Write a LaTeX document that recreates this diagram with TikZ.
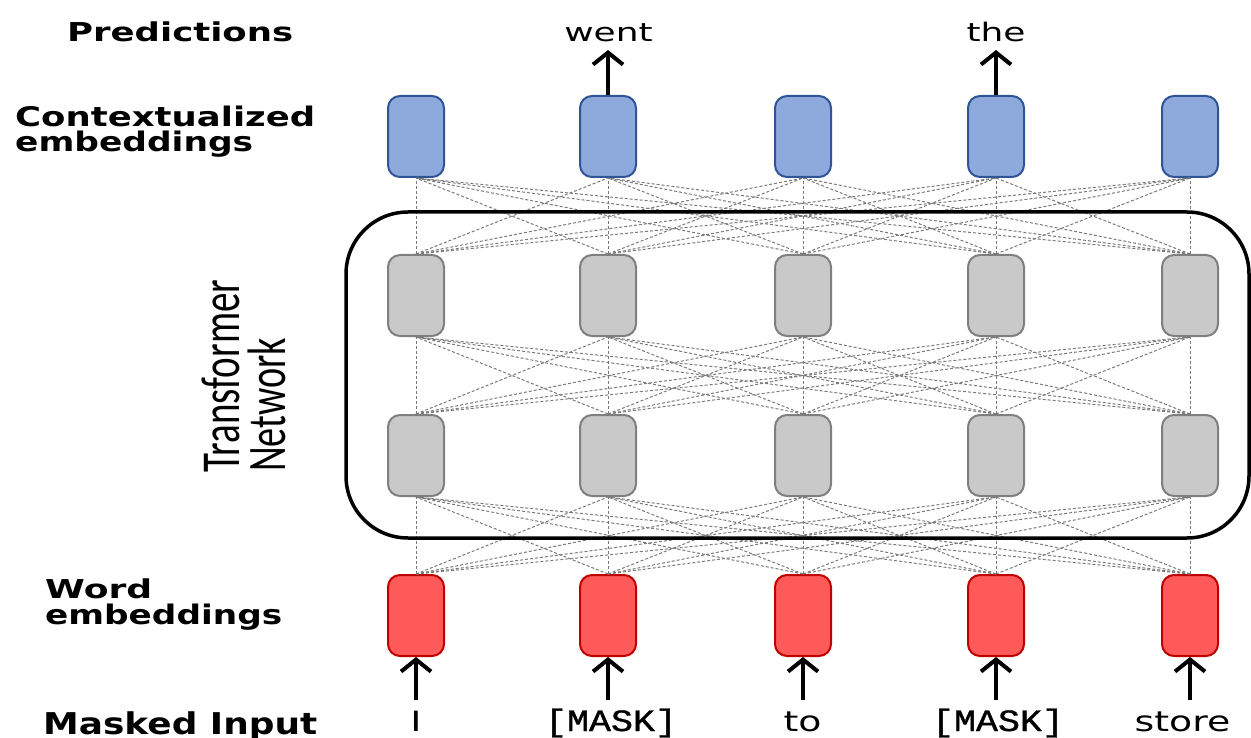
\documentclass[tikz,border=0pt]{standalone}
\usepackage{fontspec}
\usetikzlibrary{arrows.meta}
\newfontfamily\dvs{DejaVu Sans}
\newfontfamily\dvsb{DejaVu Sans Bold}
\newfontfamily\lmono[FakeBold=1]{Liberation Mono}
\newfontfamily\carl{Carlito}
\definecolor{bfill}{HTML}{8EA9DB}
\definecolor{bdraw}{HTML}{2F5597}
\definecolor{gfill}{HTML}{C9C9C9}
\definecolor{gdraw}{HTML}{7F7F7F}
\definecolor{rfill}{HTML}{FF5A5A}
\definecolor{rdraw}{HTML}{C00000}
\definecolor{dgray}{HTML}{7A7A7A}
\newcommand{\topword}[1]{\scalebox{1.41}[1]{\fontsize{25.5}{25}\dvs #1}}
\newcommand{\botword}[1]{\scalebox{1.35}[1]{\fontsize{28}{27}\dvs #1}}
\newcommand{\lab}[3]{\resizebox{#1}{\height}{\fontsize{#2}{#2}\dvsb #3}}
\newcommand{\mask}{\resizebox{132pt}{\height}{\fontsize{31}{31}\lmono [MASK]}}
\begin{document}
\begin{tikzpicture}[x=1pt,y=-1pt,
  cell/.style={draw, line width=2pt, rounded corners=12pt, minimum width=56pt, minimum height=81pt, inner sep=0pt},
  bcell/.style={cell, fill=bfill, draw=bdraw},
  gcell/.style={cell, fill=gfill, draw=gdraw},
  rcell/.style={cell, fill=rfill, draw=rdraw},
  dl/.style={draw=dgray, line width=1pt, dash pattern=on 3pt off 2pt},
  arr/.style={line width=4pt, -{Straight Barb[length=12pt,width=30pt]}},
  lbl/.style={inner sep=0pt, anchor=base west},
  wrd/.style={inner sep=0pt, anchor=base}]
\useasboundingbox (0,0) rectangle (1251,738);
% cells
\foreach \x [count=\i] in {416,608,803,996,1190}{
  \node[bcell] (c\i) at (\x,136.5) {};
  \node[gcell] (t\i) at (\x,295.5) {};
  \node[gcell] (u\i) at (\x,455.5) {};
  \node[rcell] (e\i) at (\x,615.5) {};
}
% dashed connections
\foreach \i in {1,...,5}{
  \foreach \j in {1,...,5}{
    \draw[dl] (e\i.north) -- (u\j.south);
    \draw[dl] (u\i.north) -- (t\j.south);
    \draw[dl] (t\i.north) -- (c\j.south);
  }
}
% transformer box
\node[draw, line width=3.5pt, rounded corners=62pt, minimum width=903pt, minimum height=326pt, inner sep=0pt] (tn) at (797.5,375) {};
\node[inner sep=0pt, anchor=south west] (tt) at (202,473) {\resizebox{38pt}{193pt}{\rotatebox{90}{\carl Transformer}}};
\node[inner sep=0pt, anchor=south west] (tw) at (248,472) {\resizebox{38pt}{134pt}{\rotatebox{90}{\carl Network}}};
% left labels
\node[lbl] (lp) at (67,42) {\lab{226pt}{26}{Predictions}};
\node[lbl] (lc) at (15,127) {\lab{300pt}{27}{Contextualized}};
\node[lbl] (le) at (15,152) {\lab{238pt}{27}{embeddings}};
\node[lbl] (lw) at (45,598) {\lab{107pt}{26}{Word}};
\node[lbl] (lw2) at (45,624) {\lab{237pt}{27}{embeddings}};
\node[lbl] (lm) at (43,734) {\lab{274pt}{30}{Masked Input}};
% predictions
\node[wrd] (p2) at (608.5,42) {\topword{went}};
\node[wrd] (p4) at (996,42) {\topword{the}};
\coordinate (o2) at (608,50);
\coordinate (o4) at (996,50);
\draw[arr] (c2.north) -- (o2);
\draw[arr] (c4.north) -- (o4);
% inputs
\node[wrd] (w1) at (416,731) {\botword{I}};
\node[wrd] (w2) at (611,731) {\mask};
\node[wrd] (w3) at (802.5,731) {\botword{to}};
\node[wrd] (w4) at (998,731) {\mask};
\node[wrd] (w5) at (1182.5,731) {\botword{store}};
\foreach \x [count=\i] in {416,608,803,996,1190}{
  \coordinate (i\i) at (\x,700);
  \draw[arr] (i\i) -- (e\i.south);
}
\end{tikzpicture}
\end{document}
